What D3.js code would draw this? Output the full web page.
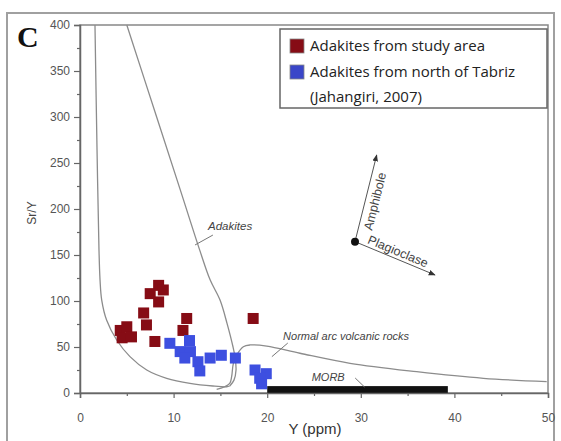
<!DOCTYPE html>
<html>
<head>
<meta charset="utf-8">
<script src="https://cdn.jsdelivr.net/npm/d3@7"></script>
<style>
  html, body { margin: 0; padding: 0; background: #fff; }
  svg { display: block; }
</style>
</head>
<body>
<svg id="chart" width="561" height="441"></svg>
<script>
// Sr/Y versus Y discrimination diagram (adakite vs. normal arc rocks)

// Adakites from study area
const studyY   = [8.4, 7.5, 8.9, 8.4, 6.8, 7.1, 4.3, 5.0, 4.5, 5.5, 8.0, 11.4, 11.0, 18.5];
const studySrY = [117, 108, 112, 99, 87, 74, 68, 72, 60, 61, 56, 81, 68, 81];

// Adakites from north of Tabriz (Jahangiri, 2007)
const tabrizY   = [9.6, 10.7, 11.7, 11.8, 11.2, 12.6, 12.8, 13.9, 15.1, 16.6, 18.7, 19.9, 19.2, 19.4];
const tabrizSrY = [54, 45, 57, 45, 38, 34, 24, 38, 41, 38, 25, 21, 16, 10];

// Axis ticks
const xTicks = [0, 10, 20, 30, 40, 50];
const yTicks = [0, 50, 100, 150, 200, 250, 300, 350, 400];
const xMinor = [5, 15, 25, 35, 45];
const yMinor = [25, 75, 125, 175, 225, 275, 325, 375];

// Field boundaries [Y, Sr/Y]
const adakiteLeft = [[1.6, 400], [1.82, 264], [2.03, 155], [2.14, 123], [2.32, 101], [2.85, 79],
  [3.92, 57.6], [5.34, 39.5], [7.13, 25], [9.26, 16], [11.75, 10.5], [14.2, 7.6], [15.67, 6.8], [16.0, 7.6]];
const adakiteRight = [[5.0, 400], [8.19, 300], [10.74, 220], [12.8, 155], [13.9, 123], [14.96, 101],
  [15.7, 76], [16.35, 50], [16.56, 39], [16.67, 25], [16.45, 14], [16.0, 7.6]];
const arcField = [[14.6, 4], [15.4, 6.5], [16.0, 10.5], [16.2, 17.7], [16.38, 32], [16.74, 41.3],
  [17.45, 50.3], [18.16, 52.2], [19.95, 51], [23.5, 43.2], [28.85, 32.3], [35.97, 23.2],
  [43.1, 16], [49.86, 12.3]];
const morbRange = [20, 39.3];
const morbTop = 7.5;

// Fractionation vectors
const vectorOrigin = [29.38, 164.5];
const amphiboleTip = [31.7, 258.7];
const plagioclaseTip = [37.93, 128.3];

// Field labels and their leader lines
const fieldLabels = [
  { text: "Adakites", at: [13.68, 177], line: [[14.2, 171.7], [12.29, 160.9]], size: 11.5 },
  { text: "Normal arc volcanic rocks", at: [21.7, 57.6], line: [[22.2, 54.3], [20.5, 39.5]], size: 11 },
  { text: "MORB", at: [24.75, 13], line: [[29.4, 16.3], [30.4, 6.5]], size: 11 }
];

const legendItems = [
  { label: ["Adakites from study area"], color: "#860c15" },
  { label: ["Adakites from north of Tabriz", "(Jahangiri, 2007)"], color: "#3a46c8" }
];

const svg = d3.select("#chart");
const x = d3.scaleLinear().domain([0, 50]).range([80, 548]);
const y = d3.scaleLinear().domain([0, 400]).range([393, 25]);

const red = "#860c15", blue = "#3d4fe0";
const axisGray = "#666";
const curveGray = "#8c8c8c";

// Outer frame
svg.append("rect").attr("x", 7).attr("y", 13).attr("width", 547).attr("height", 450)
  .attr("fill", "none").attr("stroke", "#a0a0a0").attr("stroke-width", 2);

// Plot frame
svg.append("rect").attr("x", x(0)).attr("y", y(400)).attr("width", x(50) - x(0)).attr("height", y(0) - y(400))
  .attr("fill", "none").attr("stroke", "#888").attr("stroke-width", 1.5);

// Field boundary curves
const line = d3.line().x(d => x(d[0])).y(d => y(d[1])).curve(d3.curveCatmullRom.alpha(0.5));
[adakiteLeft, adakiteRight, arcField].forEach(pts => {
  svg.append("path").attr("d", line(pts)).attr("fill", "none")
    .attr("stroke", curveGray).attr("stroke-width", 1.3);
});

// MORB bar
svg.append("rect").attr("x", x(morbRange[0])).attr("y", y(morbTop))
  .attr("width", x(morbRange[1]) - x(morbRange[0])).attr("height", y(0) - y(morbTop))
  .attr("fill", "#111");

// Field labels
fieldLabels.forEach(f => {
  svg.append("line").attr("x1", x(f.line[0][0])).attr("y1", y(f.line[0][1]))
    .attr("x2", x(f.line[1][0])).attr("y2", y(f.line[1][1]))
    .attr("stroke", "#777").attr("stroke-width", 1);
  svg.append("text").attr("x", x(f.at[0])).attr("y", y(f.at[1]))
    .attr("font-family", "Liberation Sans, Arial, sans-serif").attr("font-style", "italic")
    .attr("font-size", f.size).attr("fill", "#444").text(f.text);
});

// Axes
function styleAxis(g) {
  g.select(".domain").attr("stroke", axisGray).attr("stroke-width", 1.5);
  g.selectAll(".tick line").attr("stroke", axisGray).attr("stroke-width", 1.2);
  g.selectAll(".tick text").attr("fill", "#555")
    .attr("font-family", "Liberation Sans, Arial, sans-serif").attr("font-size", 12);
}
const gx = svg.append("g").attr("transform", `translate(0,${y(0)})`)
  .call(d3.axisBottom(x).tickValues(xTicks).tickSize(5).tickPadding(15).tickFormat(d3.format("d")));
styleAxis(gx);
const gy = svg.append("g").attr("transform", `translate(${x(0)},0)`)
  .call(d3.axisLeft(y).tickValues(yTicks).tickSize(6).tickPadding(4).tickFormat(d3.format("d")));
styleAxis(gy);
const gxm = svg.append("g").attr("transform", `translate(0,${y(0)})`)
  .call(d3.axisBottom(x).tickValues(xMinor).tickSize(3).tickFormat(""));
styleAxis(gxm); gxm.select(".domain").remove();
const gym = svg.append("g").attr("transform", `translate(${x(0)},0)`)
  .call(d3.axisLeft(y).tickValues(yMinor).tickSize(3).tickFormat(""));
styleAxis(gym); gym.select(".domain").remove();

// Axis titles
svg.append("text").attr("x", 315).attr("y", 434).attr("text-anchor", "middle")
  .attr("font-family", "Liberation Sans, Arial, sans-serif").attr("font-size", 15).attr("fill", "#333")
  .text("Y (ppm)");
svg.append("text").attr("transform", "translate(36,213) rotate(-90)").attr("text-anchor", "middle")
  .attr("font-family", "Liberation Sans, Arial, sans-serif").attr("font-size", 12).attr("fill", "#444")
  .text("Sr/Y");

// Panel letter
svg.append("text").attr("x", 17).attr("y", 47)
  .attr("font-family", "Liberation Serif, Times New Roman, serif").attr("font-weight", "bold")
  .attr("font-size", 30).attr("fill", "#111").text("C");

// Fractionation vectors
const defs = svg.append("defs");
defs.append("marker").attr("id", "arrowhead").attr("viewBox", "0 0 10 10")
  .attr("refX", 9).attr("refY", 5).attr("markerWidth", 7).attr("markerHeight", 7)
  .attr("orient", "auto")
  .append("path").attr("d", "M0,1 L10,5 L0,9 Z").attr("fill", "#333");
[amphiboleTip, plagioclaseTip].forEach(t => {
  svg.append("line").attr("x1", x(vectorOrigin[0])).attr("y1", y(vectorOrigin[1]))
    .attr("x2", x(t[0])).attr("y2", y(t[1]))
    .attr("stroke", "#555").attr("stroke-width", 1).attr("marker-end", "url(#arrowhead)");
});
svg.append("circle").attr("cx", x(vectorOrigin[0])).attr("cy", y(vectorOrigin[1])).attr("r", 4).attr("fill", "#111");

function vecAngle(t) {
  return Math.atan2(y(t[1]) - y(vectorOrigin[1]), x(t[0]) - x(vectorOrigin[0])) * 180 / Math.PI;
}
// Amphibole label (right of its arrow)
{
  const a = vecAngle(amphiboleTip);
  const mx = (x(vectorOrigin[0]) + x(amphiboleTip[0])) / 2 + 9;
  const my = (y(vectorOrigin[1]) + y(amphiboleTip[1])) / 2 + 3;
  svg.append("text").attr("transform", `translate(${mx},${my}) rotate(${a})`)
    .attr("text-anchor", "middle").attr("dy", "0.35em")
    .attr("font-family", "Liberation Sans, Arial, sans-serif").attr("font-size", 12.5).attr("fill", "#444")
    .text("Amphibole");
}
// Plagioclase label (above its arrow)
{
  const a = vecAngle(plagioclaseTip);
  const mx = (x(vectorOrigin[0]) + x(plagioclaseTip[0])) / 2 + 3;
  const my = (y(vectorOrigin[1]) + y(plagioclaseTip[1])) / 2 - 7;
  svg.append("text").attr("transform", `translate(${mx},${my}) rotate(${a})`)
    .attr("text-anchor", "middle").attr("dy", "0.35em")
    .attr("font-family", "Liberation Sans, Arial, sans-serif").attr("font-size", 12.5).attr("fill", "#444")
    .text("Plagioclase");
}

// Data points
const sq = 11;
svg.append("g").selectAll("rect").data(d3.range(studyY.length)).join("rect")
  .attr("x", i => x(studyY[i]) - sq / 2).attr("y", i => y(studySrY[i]) - sq / 2)
  .attr("width", sq).attr("height", sq).attr("fill", red);
svg.append("g").selectAll("rect").data(d3.range(tabrizY.length)).join("rect")
  .attr("x", i => x(tabrizY[i]) - sq / 2).attr("y", i => y(tabrizSrY[i]) - sq / 2)
  .attr("width", sq).attr("height", sq).attr("fill", blue);

// Legend
const lg = svg.append("g");
lg.append("rect").attr("x", 280).attr("y", 29).attr("width", 267).attr("height", 79)
  .attr("fill", "#fff").attr("stroke", "#666").attr("stroke-width", 1.5);
let ly = 51;
legendItems.forEach(item => {
  lg.append("rect").attr("x", 290).attr("y", ly - 12).attr("width", 14).attr("height", 14)
    .attr("fill", item.color).attr("stroke", "#888").attr("stroke-width", 0.8);
  item.label.forEach((t, j) => {
    lg.append("text").attr("x", 310).attr("y", ly + j * 25)
      .attr("font-family", "Open Sans, Noto Sans, sans-serif").attr("font-size", 15).attr("fill", "#222")
      .text(t);
  });
  ly += 26;
});
</script>
</body>
</html>
